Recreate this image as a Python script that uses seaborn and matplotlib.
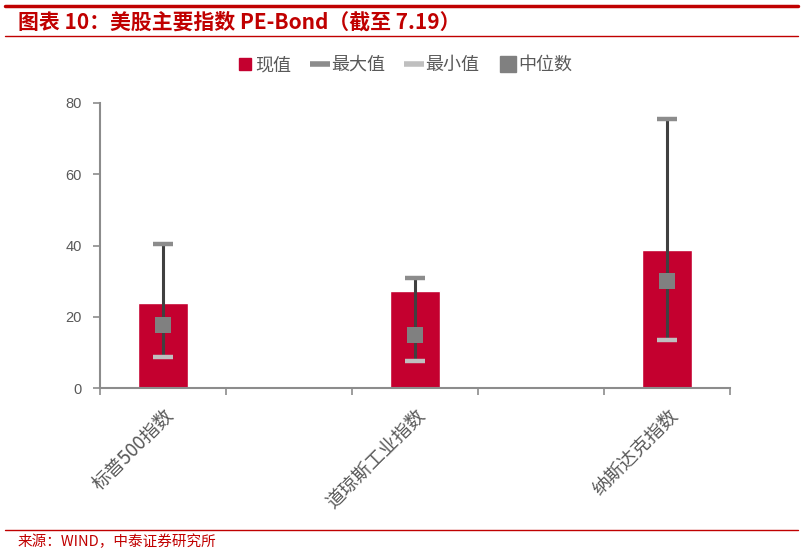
import matplotlib
matplotlib.use("Agg")
import matplotlib.pyplot as plt
import seaborn as sns
import pandas as pd
import numpy as np
from matplotlib.lines import Line2D

# ---- data ----
categories = ["标普500指数", " ", "道琼斯工业指数", "  ", "纳斯达克指数"]
current = [23.9, np.nan, 27.3, np.nan, 38.6]
maximum = [40.3, np.nan, 31.0, np.nan, 75.4]
minimum = [8.6, np.nan, 7.7, np.nan, 13.4]
median = [17.7, np.nan, 14.8, np.nan, 29.9]
yticks = [0, 20, 40, 60, 80]

df = pd.DataFrame({"cat": categories, "cur": current, "max": maximum,
                   "min": minimum, "med": median})

sns.set_theme(style="white")
plt.rcParams['font.family'] = ['Noto Sans CJK SC', 'DejaVu Sans']

RED = "#C4002F"
DARK = "#404040"
MAXC = "#8c8c8c"
MINC = "#bfbfbf"
MEDC = "#808080"
AXC = "#8c8c8c"
TXT = "#595959"

fig = plt.figure(figsize=(8.03, 5.53), dpi=100)
ax = fig.add_axes([100/803, 1-388/553, 630/803, 285/553])

sns.barplot(data=df, x="cat", y="cur", order=categories, color=RED,
            width=0.39, saturation=1, ax=ax, zorder=2)

pos = np.arange(len(categories))
valid = ~df["cur"].isna().values
ax.vlines(pos[valid], df["min"].values[valid], df["max"].values[valid],
          color=DARK, lw=2.2, zorder=3)
sns.scatterplot(x=pos[valid], y=df["max"].values[valid], marker="_", s=210,
                color=MAXC, linewidth=3.2, ax=ax, zorder=4)
sns.scatterplot(x=pos[valid], y=df["min"].values[valid], marker="_", s=210,
                color=MINC, linewidth=3.2, ax=ax, zorder=4)
sns.scatterplot(x=pos[valid], y=df["med"].values[valid], marker="s", s=125,
                color=MEDC, linewidth=0, ax=ax, zorder=5)

ax.set_xlim(-0.5, len(categories) - 0.5)
ax.set_ylim(0, 80)
ax.set_yticks(yticks)
ax.set_yticklabels([str(v) for v in yticks], fontsize=10.5, color=TXT,
                   family=['Liberation Sans', 'DejaVu Sans'])
ax.set_xlabel("")
ax.set_ylabel("")

ax.set_xticks([0, 2, 4])
ax.set_xticklabels([categories[0], categories[2], categories[4]],
                   rotation=45, ha="right", va="top", rotation_mode="anchor",
                   fontsize=13.5, color=TXT)
ax.set_xticks(np.arange(-0.5, len(categories), 1.0), minor=True)
ax.tick_params(axis="x", which="major", length=0, pad=12)
ax.tick_params(axis="x", which="minor", length=5, width=1.2, color=AXC,
               direction="out", bottom=True)
ax.tick_params(axis="y", length=5, width=1.2, color=AXC, direction="out",
               left=True, pad=8)

for s in ["top", "right"]:
    ax.spines[s].set_visible(False)
for s in ["left", "bottom"]:
    ax.spines[s].set_color(AXC)
    ax.spines[s].set_linewidth(1.5)

# legend
handles = [
    Line2D([], [], marker="s", ls="", color=RED, markersize=9),
    Line2D([], [], marker="_", ls="", color=MAXC, markersize=14, markeredgewidth=4),
    Line2D([], [], marker="_", ls="", color=MINC, markersize=14, markeredgewidth=4),
    Line2D([], [], marker="s", ls="", color=MEDC, markersize=11),
]
labels = ["现值", "最大值", "最小值", "中位数"]
fig.legend(handles, labels, loc="center", bbox_to_anchor=(405/803, 1-65/553),
           ncol=4, frameon=False, fontsize=13, handlelength=0.8,
           handletextpad=0.2, columnspacing=1.2, labelcolor=TXT)

# title and decorations
fig.add_artist(Line2D([5/803, 798/803], [1-6/553, 1-6/553], color="#C00000", lw=2.5))
fig.add_artist(Line2D([5/803, 798/803], [1-36/553, 1-36/553], color="#C00000", lw=1))
fig.add_artist(Line2D([5/803, 798/803], [1-530/553, 1-530/553], color="#C00000", lw=1))
fig.text(18/803, 1-22/553, "图表 10：美股主要指数 PE-Bond（截至 7.19）",
         color="#C00000", fontsize=15, fontweight="bold", style="italic",
         va="center", ha="left")
fig.text(18/803, 1-542/553, "来源：WIND，中泰证券研究所", color="#C00000",
         fontsize=10.5, va="center", ha="left")

fig.savefig("out.png", dpi=100)
